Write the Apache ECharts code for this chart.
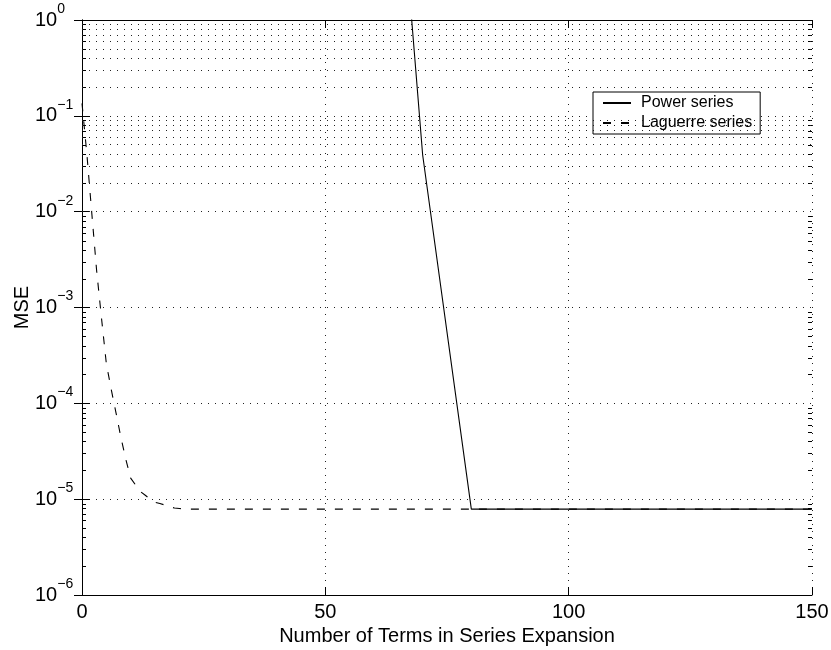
<!DOCTYPE html>
<html>
<head>
<meta charset="utf-8">
<script src="https://cdn.jsdelivr.net/npm/echarts@6/dist/echarts.min.js"></script>
<style>
  html, body { margin: 0; padding: 0; background: #fff; }
  #chart { width: 831px; height: 650px; }
</style>
</head>
<body>
<div id="chart"></div>
<script>
// x ticks and data
const xTicks = [0, 50, 100, 150];

const powerN = [60, 70, 80, 90, 100, 110, 120, 130, 140, 150];
const powerMSE = [7e4, 0.039, 7.87e-6, 7.87e-6, 7.87e-6, 7.87e-6, 7.87e-6, 7.87e-6, 7.87e-6, 7.87e-6];

const laguerreN = [0, 1, 2, 3, 4, 5, 6, 7, 8, 9, 10, 11, 12, 13, 14, 15, 16, 17, 18, 19, 20, 21, 22, 25, 30, 40, 60, 80, 100, 150];
const laguerreMSE = [0.135, 0.040, 0.0098, 0.00245, 7.8e-4, 2.6e-4, 1.4e-4, 7.9e-5, 4.4e-5, 2.6e-5,
    1.66e-5, 1.41e-5, 1.2e-5, 1.1e-5, 1.0e-5, 9.3e-6, 9.0e-6, 8.7e-6, 8.3e-6, 8.1e-6,
    8.0e-6, 7.9e-6, 7.87e-6, 7.87e-6, 7.87e-6, 7.87e-6, 7.87e-6, 7.87e-6, 7.87e-6, 7.87e-6];

// minor grid values (2..9 x each decade)
const minorGrid = [];
for (let e = -6; e < 0; e++) {
    for (let m = 2; m <= 9; m++) minorGrid.push(m * Math.pow(10, e));
}

const font = "Liberation Sans";
const dotted = { color: "#222", width: 1, type: [1, 6] };

const chart = echarts.init(document.getElementById("chart"));

function expLabel(v) {
    const e = Math.round(Math.log10(v));
    return "{b|10}{s|" + (e < 0 ? "\u2212" + (-e) : e) + "}";
}

// short inward ticks at the minor log values, on both left and right edges
function renderMinorTick(params, api) {
    const v = api.value(0);
    const l = api.coord([0, v]);
    const r = api.coord([150, v]);
    const y = Math.round(l[1]) + 0.5;
    const style = { stroke: "#000", lineWidth: 1 };
    return {
        type: "group",
        children: [
            { type: "line", shape: { x1: l[0], y1: y, x2: l[0] + 4, y2: y }, style: style },
            { type: "line", shape: { x1: r[0] - 4, y1: y, x2: r[0], y2: y }, style: style },
        ],
    };
}

const option = {
    animation: false,
    backgroundColor: "#fff",
    grid: { left: 82, top: 20, right: 19, bottom: 55, outerBoundsMode: "none" },
    legend: {
        orient: "vertical",
        left: 593,
        top: 92,
        padding: [3, 8, 3, 9],
        itemWidth: 28,
        itemHeight: 16,
        itemGap: 4,
        backgroundColor: "#fff",
        borderColor: "#000",
        borderWidth: 1,
        itemStyle: { opacity: 0 },
        textStyle: { fontFamily: font, fontSize: 16, color: "#000", padding: [0, 0, 0, 5] },
        data: ["Power series", "Laguerre series"],
    },
    xAxis: [
        {
            type: "value",
            min: 0,
            max: 150,
            interval: 50,
            name: "Number of Terms in Series Expansion",
            nameLocation: "middle",
            nameGap: 26,
            nameTextStyle: { fontFamily: font, fontSize: 20, color: "#000" },
            axisLine: { lineStyle: { color: "#000", width: 1 } },
            axisTick: { inside: true, length: 8, lineStyle: { color: "#000" } },
            axisLabel: { fontFamily: font, fontSize: 20, color: "#000", margin: 7 },
            splitLine: { show: true, lineStyle: dotted },
        },
        {
            type: "value",
            position: "top",
            min: 0,
            max: 150,
            interval: 50,
            axisLine: { show: true, lineStyle: { color: "#000", width: 1 } },
            axisTick: { show: true, inside: true, length: 8, lineStyle: { color: "#000" } },
            axisLabel: { show: false },
            splitLine: { show: false },
        },
    ],
    yAxis: [
        {
            type: "log",
            logBase: 10,
            min: 1e-6,
            max: 1,
            name: "MSE",
            nameLocation: "middle",
            nameGap: 50,
            nameMoveOverlap: false,
            nameTextStyle: { fontFamily: font, fontSize: 20, color: "#000" },
            axisLine: { show: true, lineStyle: { color: "#000", width: 1 } },
            axisTick: { show: true, inside: true, length: 8, lineStyle: { color: "#000" } },
            axisLabel: {
                margin: 47,
                align: "left",
                formatter: expLabel,
                rich: {
                    b: { fontFamily: font, fontSize: 20, color: "#000", lineHeight: 24 },
                    s: { fontFamily: font, fontSize: 14, color: "#000", lineHeight: 14, padding: [0, 0, 22, 0] },
                },
            },
            splitLine: { show: true, lineStyle: dotted },
        },
        {
            type: "log",
            logBase: 10,
            min: 1e-6,
            max: 1,
            position: "right",
            axisLine: { show: true, lineStyle: { color: "#000", width: 1 } },
            axisTick: { show: true, inside: true, length: 8, lineStyle: { color: "#000" } },
            axisLabel: { show: false },
            splitLine: { show: false },
        },
    ],
    series: [
        {
            name: "Power series",
            type: "line",
            symbol: "none",
            clip: true,
            lineStyle: { color: "#000", width: 1.1, type: "solid" },
            itemStyle: { color: "#000" },
            data: powerN.map((n, i) => [n, powerMSE[i]]),
            z: 3,
        },
        {
            name: "Laguerre series",
            type: "line",
            symbol: "none",
            clip: true,
            lineStyle: { color: "#000", width: 1.1, type: [8, 10] },
            itemStyle: { color: "#000" },
            data: laguerreN.map((n, i) => [n, laguerreMSE[i]]),
            markLine: {
                silent: true,
                symbol: "none",
                label: { show: false },
                lineStyle: dotted,
                data: minorGrid.map((v) => ({ yAxis: v })),
            },
            z: 2,
        },
        {
            name: "minor ticks",
            type: "custom",
            silent: true,
            renderItem: renderMinorTick,
            data: minorGrid.map((v) => [v]),
            encode: { y: 0 },
            z: 4,
        },
    ],
};

chart.setOption(option);
</script>
</body>
</html>
